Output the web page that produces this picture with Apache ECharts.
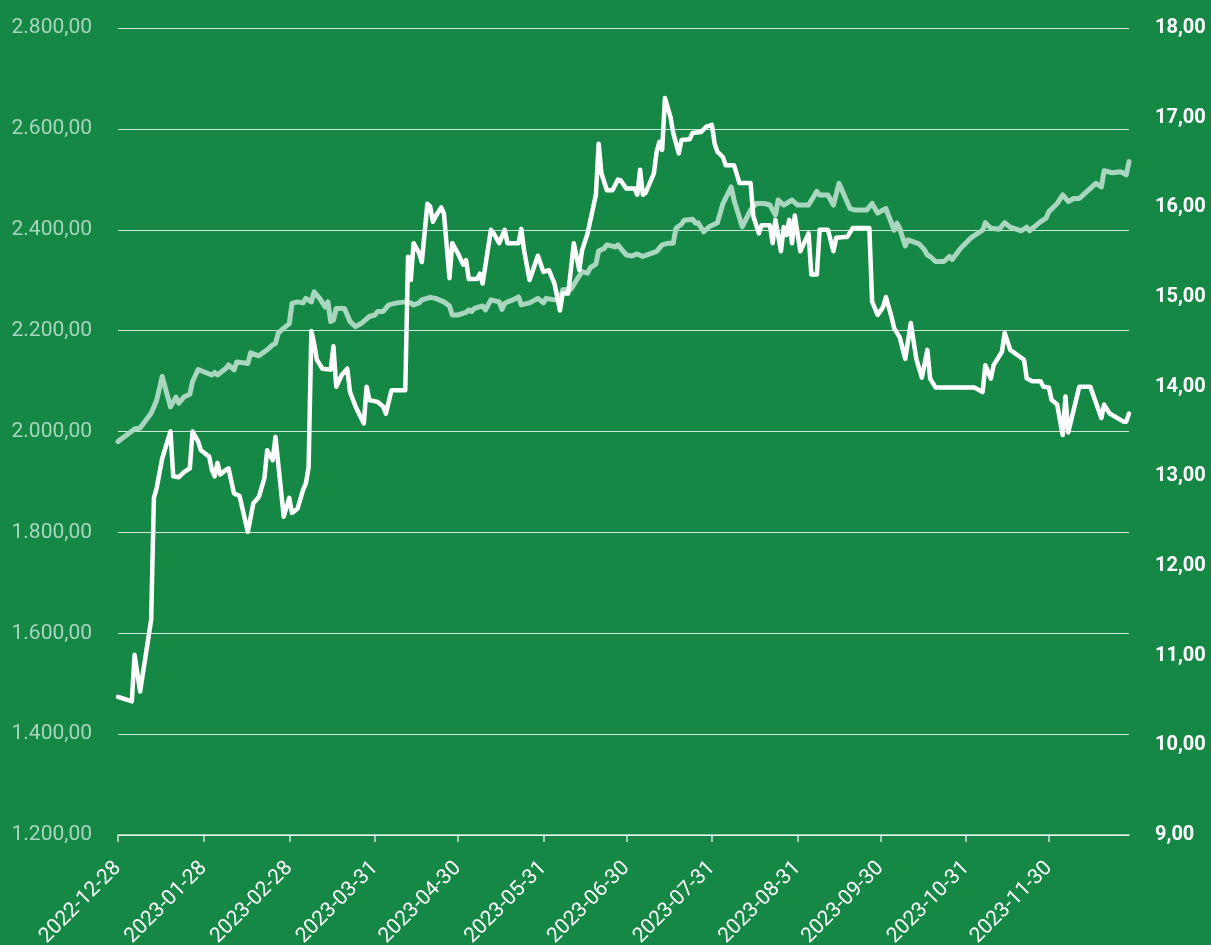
<!DOCTYPE html>
<html>
<head>
<meta charset="utf-8">
<script src="https://cdn.jsdelivr.net/npm/echarts@6/dist/echarts.min.js"></script>
<style>
html,body{margin:0;padding:0;background:#168845;}
#chart{width:1211px;height:945px;}
</style>
</head>
<body>
<div id="chart"></div>
<script>
// ---- data ----
const startDate = '2022-12-28';
const dayCount = 367; // 2022-12-28 .. 2023-12-29
const tickLabels = ['2022-12-28','2023-01-28','2023-02-28','2023-03-31','2023-04-30','2023-05-31','2023-06-30','2023-07-31','2023-08-31','2023-09-30','2023-10-31','2023-11-30'];

// light series (left axis) : day offset from start, value
const lightDays = [0,6,8,12,14,16,19,21,22,24,26,27,29,34,35,36,39,40,42,43,47,48,51,54,56,57,58,60,62,63,65,67,68,70,71,73,75,76,77,78,79,82,84,86,88,91,93,94,96,98,101,104,106,107,109,110,113,115,118,120,121,123,126,127,128,129,132,133,135,138,139,140,141,143,145,146,149,152,154,155,158,160,161,164,166,168,170,171,173,174,176,177,180,181,182,184,186,188,190,193,195,197,199,201,202,204,205,208,209,210,212,214,217,219,222,223,226,229,231,234,236,238,239,241,244,246,250,253,254,257,259,261,265,267,271,273,275,278,281,282,283,285,286,290,292,293,294,296,299,301,302,305,309,313,314,316,319,321,323,327,329,330,334,336,337,340,342,344,346,348,350,352,354,356,357,360,363,365,366];
const lightValues = [1980,2005,2007,2036,2062,2109,2049,2068,2056,2069,2074,2099,2123,2112,2117,2112,2125,2132,2122,2138,2135,2156,2150,2162,2172,2174,2195,2205,2214,2254,2257,2255,2264,2257,2277,2264,2247,2257,2218,2221,2244,2244,2218,2208,2214,2228,2231,2238,2238,2251,2255,2257,2255,2251,2255,2261,2266,2264,2257,2249,2231,2231,2236,2241,2238,2244,2249,2241,2261,2257,2242,2254,2257,2261,2267,2251,2255,2264,2255,2264,2261,2264,2281,2282,2300,2317,2314,2325,2332,2358,2363,2370,2366,2370,2363,2350,2348,2352,2347,2353,2357,2370,2373,2373,2403,2411,2419,2421,2413,2414,2396,2406,2414,2452,2485,2459,2406,2439,2452,2452,2449,2429,2459,2449,2459,2449,2449,2476,2469,2469,2449,2492,2442,2439,2439,2452,2433,2442,2399,2413,2403,2368,2380,2372,2360,2350,2347,2337,2337,2347,2341,2363,2385,2399,2414,2403,2401,2414,2405,2398,2405,2398,2416,2423,2436,2452,2469,2456,2462,2462,2472,2482,2492,2485,2517,2513,2515,2509,2535];

// white series (right axis)
const whiteDays = [0,5,6,8,12,13,14,16,19,20,22,24,26,27,29,30,33,34,35,36,37,39,40,42,44,47,49,51,53,54,56,57,60,62,63,65,67,68,69,70,71,72,74,77,78,79,81,83,84,86,89,90,91,94,96,97,99,104,105,106,107,109,110,112,113,114,115,117,118,120,121,123,125,126,127,130,131,132,135,136,138,140,141,145,146,147,149,152,154,156,158,160,161,163,165,167,168,170,173,174,175,177,179,181,182,184,187,188,189,190,191,194,195,196,197,198,200,201,203,204,207,208,211,213,215,216,217,219,220,223,225,229,230,232,233,236,237,238,240,241,242,243,244,245,247,250,251,253,254,257,259,260,263,264,266,272,273,275,277,278,280,281,283,285,287,289,291,293,294,295,296,310,313,314,316,317,320,321,323,328,329,331,334,335,337,338,340,342,343,344,348,352,356,357,359,364,365,366];
const whiteValues = [10.54,10.49,11.01,10.60,11.40,12.76,12.87,13.20,13.50,13.00,12.99,13.05,13.09,13.50,13.39,13.29,13.22,13.07,13.00,13.15,13.02,13.07,13.09,12.81,12.78,12.38,12.70,12.77,12.98,13.29,13.18,13.44,12.55,12.76,12.59,12.64,12.85,12.92,13.10,14.62,14.48,14.30,14.20,14.19,14.45,14.00,14.13,14.20,13.94,13.78,13.59,14.00,13.85,13.83,13.78,13.70,13.96,13.96,15.45,15.19,15.60,15.49,15.39,16.04,16.01,15.84,15.90,16.00,15.93,15.21,15.60,15.49,15.36,15.41,15.20,15.20,15.26,15.15,15.75,15.71,15.60,15.75,15.60,15.60,15.76,15.52,15.19,15.46,15.28,15.30,15.15,14.85,15.04,15.04,15.60,15.30,15.52,15.71,16.14,16.71,16.38,16.19,16.19,16.31,16.30,16.21,16.21,16.14,16.42,16.14,16.16,16.38,16.62,16.73,16.64,17.22,17.01,16.83,16.60,16.75,16.76,16.83,16.84,16.90,16.92,16.71,16.62,16.56,16.47,16.47,16.27,16.27,15.90,15.71,15.80,15.80,15.60,15.86,15.51,15.78,15.69,15.86,15.60,15.91,15.51,15.71,15.25,15.25,15.75,15.75,15.51,15.66,15.67,15.67,15.77,15.77,14.95,14.80,14.89,15.00,14.78,14.65,14.55,14.31,14.71,14.31,14.10,14.41,14.09,14.04,13.99,13.99,13.94,14.24,14.09,14.24,14.39,14.60,14.41,14.30,14.09,14.06,14.06,14.00,13.99,13.85,13.80,13.46,13.89,13.49,14.00,14.00,13.65,13.80,13.70,13.61,13.61,13.70];

// ---- build ----
function pad(n){return n<10?'0'+n:''+n;}
const dates = [];
(function(){
  const p = startDate.split('-').map(Number);
  const t0 = Date.UTC(p[0], p[1]-1, p[2]);
  for (let i=0;i<dayCount;i++){
    const d = new Date(t0 + i*86400000);
    dates.push(d.getUTCFullYear()+'-'+pad(d.getUTCMonth()+1)+'-'+pad(d.getUTCDate()));
  }
})();
const tickSet = new Set(tickLabels);
const lightData = lightDays.map((d,i)=>[dates[d], lightValues[i]]);
const whiteData = whiteDays.map((d,i)=>[dates[d], whiteValues[i]]);

function fmt(v, dec){
  const parts = v.toFixed(dec).split('.');
  const intPart = parts[0].replace(/\B(?=(\d{3})+(?!\d))/g, '.');
  return intPart + ',' + parts[1];
}

const chart = echarts.init(document.getElementById('chart'));
chart.setOption({
  backgroundColor: '#168845',
  animation: false,
  grid: {left: 118, right: 82, top: 28, bottom: 110, containLabel: false, outerBoundsMode: 'none'},
  xAxis: {
    type: 'category',
    data: dates,
    boundaryGap: false,
    axisLine: {show: true, lineStyle: {color: 'rgba(255,255,255,0.8)', width: 1.5}},
    axisTick: {show: true, length: 7, lineStyle: {color: 'rgba(255,255,255,0.8)', width: 1.5},
      interval: function(i, v){ return tickSet.has(v); }},
    axisLabel: {
      interval: function(i, v){ return tickSet.has(v); },
      rotate: 45, color: '#ffffff', fontFamily: 'Roboto', fontSize: 21, margin: 30
    },
    splitLine: {show: false}
  },
  yAxis: [
    {
      type: 'value', min: 1200, max: 2800, interval: 200, position: 'left',
      axisLine: {show: false}, axisTick: {show: false},
      axisLabel: {color: '#a8d5bd', fontFamily: 'Roboto', fontSize: 21, margin: 26,
        formatter: v => fmt(v, 2)},
      splitLine: {show: true, lineStyle: {color: 'rgba(255,255,255,0.8)', width: 1.2}}
    },
    {
      type: 'value', min: 9, max: 18, interval: 1, position: 'right',
      axisLine: {show: false}, axisTick: {show: false},
      axisLabel: {color: '#ffffff', fontFamily: 'Roboto', fontWeight: 'bold', fontSize: 20, margin: 26,
        formatter: v => fmt(v, 2)},
      splitLine: {show: false}
    }
  ],
  series: [
    {
      type: 'line', yAxisIndex: 0, data: lightData, showSymbol: false, symbol: 'none',
      lineStyle: {color: '#a8d6bf', width: 5, join: 'round', cap: 'round'}
    },
    {
      type: 'line', yAxisIndex: 1, data: whiteData, showSymbol: false, symbol: 'none',
      lineStyle: {color: '#ffffff', width: 4.5, join: 'round', cap: 'round'}
    }
  ]
});
</script>
</body>
</html>
